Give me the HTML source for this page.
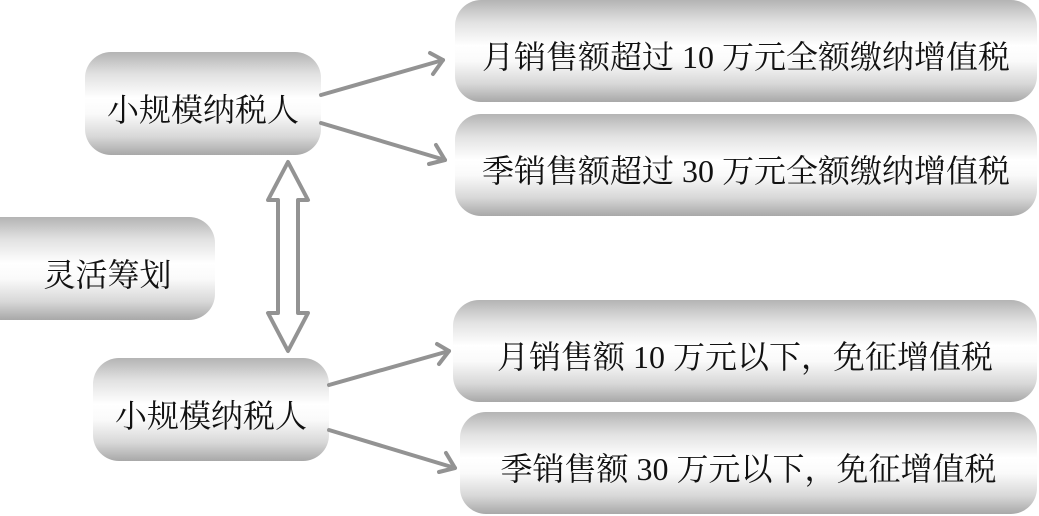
<!DOCTYPE html>
<html><head><meta charset="utf-8"><style>
body{margin:0;width:1039px;height:516px;background:#fff;position:relative;overflow:hidden;font-family:"Liberation Serif","Noto Serif CJK SC",serif;}
.b{position:absolute;box-sizing:border-box;padding-top:8px;border-radius:26px;background:linear-gradient(#b4b4b4 0%,#e2e2e2 22%,#fff 45%,#fafafa 60%,#d8d8d8 82%,#a8a8a8 100%);display:flex;align-items:center;justify-content:center;font-size:32px;color:#111;white-space:nowrap;}
</style></head><body>
<div class="b" style="left:85px;top:52px;width:236px;height:103px;">小规模纳税人</div>
<div class="b" style="left:0;top:217px;width:215px;height:103px;border-radius:0 26px 26px 0;">灵活筹划</div>
<div class="b" style="left:93px;top:358px;width:236px;height:103px;">小规模纳税人</div>
<div class="b" style="left:455px;top:0;width:582px;height:102px;">月销售额超过 10 万元全额缴纳增值税</div>
<div class="b" style="left:455px;top:114px;width:582px;height:102px;">季销售额超过 30 万元全额缴纳增值税</div>
<div class="b" style="left:453px;top:300px;width:584px;height:102px;">月销售额 10 万元以下，免征增值税</div>
<div class="b" style="left:460px;top:412px;width:577px;height:102px;">季销售额 30 万元以下，免征增值税</div>
<svg width="1039" height="516" style="position:absolute;left:0;top:0">
<g stroke="#939393" stroke-width="4" fill="none" stroke-linecap="round" stroke-linejoin="round">
<line x1="321" y1="95" x2="443" y2="60"/><polyline points="430,53 443,60 433,74"/>
<line x1="321" y1="123" x2="445" y2="160"/><polyline points="436,145 445,160 429,164"/>
<line x1="329" y1="385" x2="449" y2="351"/><polyline points="437,344 449,351 439,364"/>
<line x1="329" y1="430" x2="455" y2="468"/><polyline points="446,453 455,468 439,472"/>
<polygon points="288,162 308,200 298,200 298,313 308,313 288,351 268,313 278,313 278,200 268,200"/>
</g></svg>
</body></html>
